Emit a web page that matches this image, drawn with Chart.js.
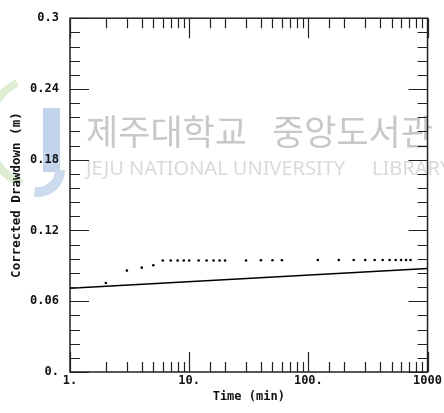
<!DOCTYPE html>
<html>
<head>
<meta charset="utf-8">
<script src="https://cdn.jsdelivr.net/npm/chart.js@4.4.1/dist/chart.umd.min.js"></script>
<style>
  html, body { margin: 0; padding: 0; background: #fff; }
  #wrap { width: 444px; height: 413px; }
</style>
</head>
<body>
<div id="wrap"><canvas id="chart" width="444" height="413"></canvas></div>
<script>
// Observed drawdown (time in minutes, corrected drawdown in m)
const timeMin = [2, 3, 4, 5, 6, 7, 8, 9, 10, 12, 14, 16, 18, 20, 30, 40, 50, 60,
                 120, 180, 240, 300, 360, 420, 480, 540, 600, 660, 720];
const drawdown = [0.0755, 0.086, 0.0885, 0.0905, 0.0945, 0.0945, 0.0945, 0.0945, 0.0945,
                  0.0945, 0.0945, 0.0945, 0.0945, 0.0945, 0.0945, 0.0947, 0.0947, 0.0947,
                  0.095, 0.095, 0.095, 0.095, 0.095, 0.095, 0.095, 0.095, 0.095, 0.095, 0.095];

// Fitted straight line (semi-log)
const fitTime = [1, 1000];
const fitDrawdown = [0.071, 0.0877];

// Axis ranges / labels
const xRange = [1, 1000];
const xLabels = { 1: '1.', 10: '10.', 100: '100.', 1000: '1000' };
const yRange = [0, 0.3];
const yLabelStep = 0.06;
const yTickStep = 0.012;

const monoFont = { family: '"DejaVu Sans Mono", monospace', size: 12, weight: 'bold' };

function isMajorY(v) {
    const r = v / yLabelStep;
    return Math.abs(r - Math.round(r)) < 1e-6;
}

// white background + faint library watermark
const watermark = {
    id: 'watermark',
    beforeDraw(chart) {
        const ctx = chart.ctx;
        ctx.save();
        ctx.fillStyle = '#fff';
        ctx.fillRect(0, 0, chart.width, chart.height);
        // logo: green crescent and blue bar
        ctx.strokeStyle = '#dcedd2';
        ctx.lineWidth = 8;
        ctx.beginPath();
        ctx.arc(42, 132, 55, Math.PI * 0.62, Math.PI * 1.35);
        ctx.stroke();
        ctx.fillStyle = '#c2d4ec';
        ctx.fillRect(43, 108, 17, 64);
        ctx.beginPath();
        ctx.arc(38, 170, 22, 0, Math.PI * 0.55);
        ctx.lineWidth = 10;
        ctx.strokeStyle = '#cddbef';
        ctx.stroke();
        // text
        ctx.fillStyle = '#c8c8c8';
        ctx.font = '35px "Noto Sans CJK KR"';
        ctx.textBaseline = 'alphabetic';
        ctx.fillText('제주대학교', 86, 145);
        ctx.fillText('중앙도서관', 272, 145);
        ctx.fillStyle = '#dadada';
        ctx.font = '20px "Noto Sans"';
        ctx.fillText('JEJU NATIONAL UNIVERSITY', 86, 175);
        ctx.fillText('LIBRARY', 372, 175);
        ctx.restore();
    }
};

// frame + inward tick marks on all four sides
const frameTicks = {
    id: 'frameTicks',
    afterDraw(chart) {
        const ctx = chart.ctx;
        const a = chart.chartArea;
        const xs = chart.scales.x;
        const ys = chart.scales.y;
        ctx.save();
        ctx.strokeStyle = '#222';
        ctx.lineWidth = 1.5;
        ctx.strokeRect(a.left, a.top, a.right - a.left, a.bottom - a.top);
        ctx.lineWidth = 1.2;
        ctx.beginPath();
        xs.ticks.forEach(t => {
            const px = Math.round(xs.getPixelForValue(t.value)) + 0.5;
            const len = xLabels[t.value] !== undefined ? 20 : 10;
            ctx.moveTo(px, a.bottom); ctx.lineTo(px, a.bottom - len);
            ctx.moveTo(px, a.top); ctx.lineTo(px, a.top + len);
        });
        ys.ticks.forEach(t => {
            const py = Math.round(ys.getPixelForValue(t.value)) + 0.5;
            const len = isMajorY(t.value) ? 19 : 10;
            ctx.moveTo(a.left, py); ctx.lineTo(a.left + len, py);
            ctx.moveTo(a.right, py); ctx.lineTo(a.right - len, py);
        });
        ctx.stroke();
        ctx.restore();
    }
};

new Chart(document.getElementById('chart'), {
    type: 'scatter',
    data: {
        datasets: [
            {
                label: 'Observed',
                data: timeMin.map((t, i) => ({ x: t, y: drawdown[i] })),
                pointRadius: 1.3,
                pointBackgroundColor: '#000',
                pointBorderWidth: 0,
                showLine: false
            },
            {
                label: 'Fit',
                data: fitTime.map((t, i) => ({ x: t, y: fitDrawdown[i] })),
                showLine: true,
                borderColor: '#000',
                borderWidth: 1.5,
                pointRadius: 0
            }
        ]
    },
    options: {
        responsive: false,
        animation: false,
        layout: { padding: { left: 0, right: 14, top: 14, bottom: 0 } },
        plugins: { legend: { display: false }, tooltip: { enabled: false } },
        scales: {
            x: {
                type: 'logarithmic',
                min: xRange[0],
                max: xRange[1],
                grid: { display: false, drawTicks: false },
                border: { display: false },
                ticks: {
                    autoSkip: false,
                    maxRotation: 0,
                    padding: 2,
                    color: '#111',
                    font: monoFont,
                    callback: v => xLabels[v] !== undefined ? xLabels[v] : ''
                },
                title: { display: true, text: 'Time (min)', color: '#111', font: monoFont, padding: { top: 0, bottom: 9 } },
                afterFit: s => { s.height = 41; }
            },
            y: {
                min: yRange[0],
                max: yRange[1],
                grid: { display: false, drawTicks: false },
                border: { display: false },
                ticks: {
                    autoSkip: false,
                    stepSize: yTickStep,
                    padding: 11,
                    color: '#111',
                    font: monoFont,
                    callback: v => {
                        if (!isMajorY(v)) return '';
                        const s = (Math.round(v * 100) / 100).toString();
                        return s === '0' ? '0.' : s;
                    }
                },
                title: { display: true, text: 'Corrected Drawdown (m)', color: '#111', font: { ...monoFont, size: 12.5 }, padding: { top: 9, bottom: 0 } },
                afterFit: s => { s.width = 70; }
            }
        }
    },
    plugins: [watermark, frameTicks]
});
</script>
</body>
</html>
